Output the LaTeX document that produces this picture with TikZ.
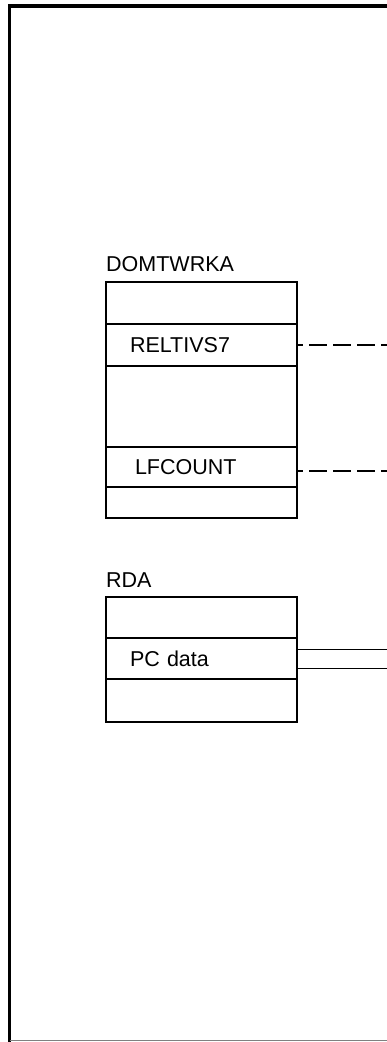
\documentclass[tikz,border=0pt]{standalone}
\usepackage{fontspec}
\setmainfont{Liberation Sans}
\usetikzlibrary{positioning}

\begin{document}
\begin{tikzpicture}[
  x=1pt, y=-1pt,
  node distance=0pt,
  field/.style={
    draw,
    line width=2pt,
    outer sep=0pt,
    minimum width=191pt,
    text width=143pt,
    inner xsep=24pt,
    align=left,
    font=\fontsize{21.5}{25}\selectfont
  },
  areaname/.style={
    inner sep=0pt,
    font=\fontsize{21.5}{25}\selectfont
  },
  dline/.style={line width=1.8pt, dash pattern=on 18pt off 6pt, dash phase=12pt},
  pline/.style={line width=1.8pt}
]

\useasboundingbox (0,0) rectangle (387,1042);

% Page frame
\draw[line width=3.5pt] (9.5,1042) -- (9.5,6) -- (387,6);
\draw[gray, line width=1.5pt] (9.5,1040.5) -- (387,1040.5);
\coordinate (rightedge) at (387,0);

% DOMTWRKA work area
\node[field,minimum height=42pt,anchor=north west] (dtop) at (106,282) {};
\node[field,minimum height=42pt,below=of dtop] (reltivs) {RELTIVS7};
\node[field,minimum height=81pt,below=of reltivs] (dgap) {};
\node[field,minimum height=40pt,below=of dgap] (lfcount) {\hspace{5pt}LFCOUNT};
\node[field,minimum height=31pt,below=of lfcount] (dbot) {};
\node[areaname,above=10pt of dtop.north west,anchor=south west] (domtwrka) {DOMTWRKA};

% RDA
\node[field,minimum height=41pt,anchor=north west] (rtop) at (106,597) {};
\node[field,minimum height=41pt,below=of rtop] (pcdata) {PC data};
\node[field,minimum height=43pt,below=of pcdata] (rbot) {};
\node[areaname,above=9pt of rtop.north west,anchor=south west] (rda) {RDA};

% Connectors to the next page
\draw[dline] (reltivs.east) -- (reltivs.east -| rightedge);
\draw[dline] ([yshift=-4pt]lfcount.east) -- ([yshift=-4pt]lfcount.east -| rightedge);
\draw[pline] ([yshift=-10pt]pcdata.east) -- ([yshift=-10pt]pcdata.east -| rightedge);
\draw[pline] ([yshift=9pt]pcdata.east) -- ([yshift=9pt]pcdata.east -| rightedge);

\end{tikzpicture}
\end{document}
